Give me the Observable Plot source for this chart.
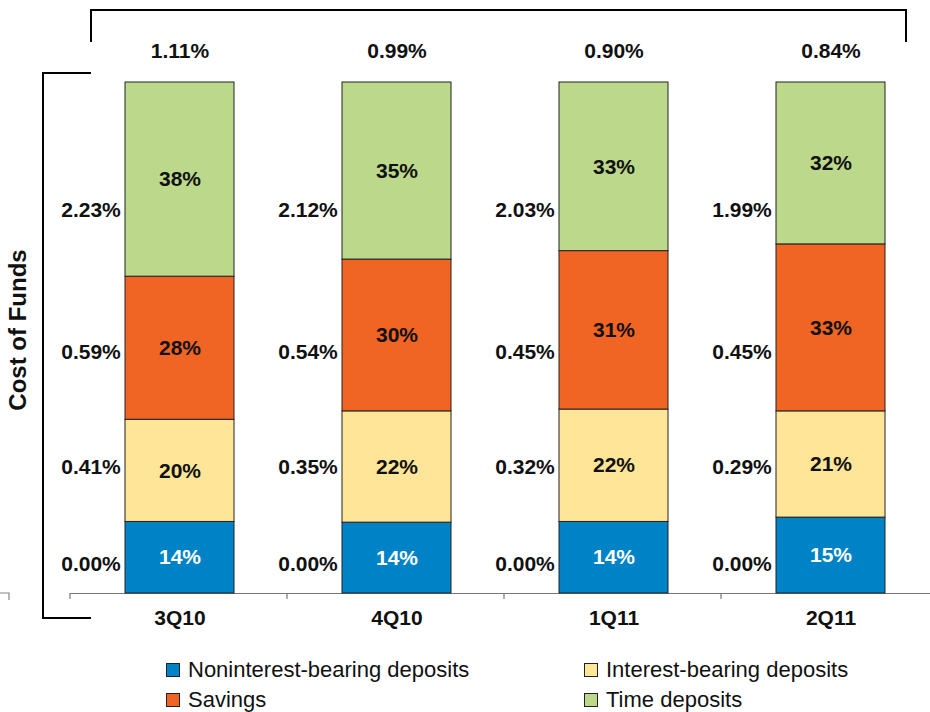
<!DOCTYPE html>
<html>
<head>
<meta charset="utf-8">
<script src="https://cdn.jsdelivr.net/npm/d3@7"></script>
<script src="https://cdn.jsdelivr.net/npm/@observablehq/plot@0.6"></script>
<style>
  body { margin: 0; background: #fff; font-family: "Liberation Sans", Arial, sans-serif; }
  #chart svg { display: block; overflow: visible; }
  .legend {
    display: grid;
    grid-template-columns: 418px auto;
    margin-left: 166px;
    padding-top: 15px;
    font-size: 22px;
    color: #111;
  }
  .legend .item { display: flex; align-items: center; height: 30px; white-space: nowrap; }
  .legend .sw { width: 12px; height: 12px; border: 1px solid #222; margin-right: 8px; flex: none; }
</style>
</head>
<body>
<div id="chart"></div>
<script>
// Quarters shown on the x axis
const quarters = ["3Q10", "4Q10", "1Q11", "2Q11"];

// Deposit categories, bottom of the stack first
const categories = ["Noninterest-bearing deposits", "Interest-bearing deposits", "Savings", "Time deposits"];
const colors = ["#0082c6", "#fee597", "#f06424", "#bcd98b"];

// Share of total deposits (%) per quarter
const noninterestShare = [14, 14, 14, 15];
const interestBearingShare = [20, 22, 22, 21];
const savingsShare = [28, 30, 31, 33];
const timeDepositShare = [38, 35, 33, 32];

// Cost of funds (%) per category per quarter
const noninterestCost = [0.00, 0.00, 0.00, 0.00];
const interestBearingCost = [0.41, 0.35, 0.32, 0.29];
const savingsCost = [0.59, 0.54, 0.45, 0.45];
const timeDepositCost = [2.23, 2.12, 2.03, 1.99];

// Total cost of funds (%) per quarter
const totalCost = [1.11, 0.99, 0.90, 0.84];

const shares = [noninterestShare, interestBearingShare, savingsShare, timeDepositShare];
const costs = [noninterestCost, interestBearingCost, savingsCost, timeDepositCost];

const rows = [];
quarters.forEach((q, i) => {
  categories.forEach((c, k) => {
    rows.push({quarter: q, category: c, k, share: shares[k][i], cost: costs[k][i]});
  });
});

// Vertical row positions (fraction of the stack height) for the cost labels
const costRowLevel = [0.057, 0.247, 0.472, 0.75];

const W = 930, H = 640;
const bold = {fontWeight: "bold", fontSize: 21, fontFamily: "Liberation Sans, Arial, sans-serif"};

const plot = Plot.plot({
  width: W,
  height: H,
  marginTop: 82,
  marginBottom: 47,
  marginLeft: 70,
  marginRight: 0,
  style: {fontFamily: "Liberation Sans, Arial, sans-serif", background: "white"},
  x: {domain: quarters, range: [70, 940], paddingInner: 0.5, paddingOuter: 0.25, axis: null},
  y: {domain: [0, 1], axis: null},
  color: {type: "identity"},
  marks: [
    Plot.ruleY([0], {stroke: "#777", strokeWidth: 1.2}),
    Plot.barY(rows, Plot.stackY({
      x: "quarter", y: "share", offset: "normalize",
      fill: d => colors[d.k], stroke: "#222", strokeWidth: 1
    })),
    Plot.text(rows, Plot.stackY({
      x: "quarter", y: "share", offset: "normalize",
      text: d => d.share + "%",
      fill: d => d.k === 0 ? "white" : "#111",
      ...bold
    })),
    Plot.text(rows, {
      x: "quarter", y: d => costRowLevel[d.k],
      text: d => d.cost.toFixed(2) + "%",
      dx: -89, fill: "#111", ...bold
    }),
    Plot.text(quarters, {
      x: d => d, text: (d, i) => totalCost[i].toFixed(2) + "%",
      frameAnchor: "top", lineAnchor: "middle", dy: -31, fill: "#111", ...bold
    }),
    Plot.axisX({
      domain: quarters, tickSize: 0, tickPadding: 17, label: null,
      fontWeight: "bold", fontSize: 21, fill: "#111"
    }),
    Plot.text(["Cost of Funds"], {
      frameAnchor: "left", textAnchor: "middle", lineAnchor: "middle", text: d => d, rotate: -90,
      dx: -52, dy: -8, fontWeight: "bold", fontSize: 24, fill: "#111"
    })
  ]
});

document.getElementById("chart").append(plot);

// Axis ticks at the band boundaries, plus the bracket frame
const svg = d3.select(plot);
const xs = plot.scale("x");
const x0 = xs.range[0];
const y0 = plot.scale("y").apply(0);
const deco = svg.append("g").attr("fill", "none");
d3.range(quarters.length + 1).forEach(i => {
  const bx = x0 + i * xs.step;
  deco.append("line")
    .attr("x1", bx).attr("x2", bx).attr("y1", y0).attr("y2", y0 + 6)
    .attr("stroke", "#777").attr("stroke-width", 1.2);
});
deco.append("path").attr("d", "M91,42V10H906V42").attr("stroke", "#000").attr("stroke-width", 2);
deco.append("path").attr("d", "M91,73H43V618H91").attr("stroke", "#000").attr("stroke-width", 2);
deco.append("path").attr("d", "M0,593H9V600").attr("stroke", "#888").attr("stroke-width", 1.2);

// Legend below the chart, two columns
const legend = d3.select("body").append("div").attr("class", "legend");
categories.forEach((c, k) => {
  const item = legend.append("div").attr("class", "item");
  item.append("span").attr("class", "sw").style("background", colors[k]);
  item.append("span").text(c);
});
</script>
</body>
</html>
